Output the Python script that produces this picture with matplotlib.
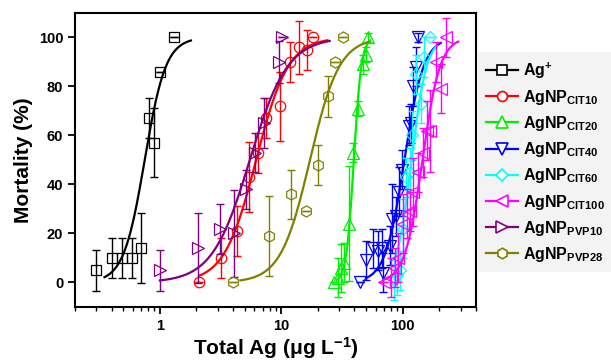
import matplotlib
matplotlib.use("Agg")
import matplotlib.pyplot as plt
import numpy as np
from matplotlib.lines import Line2D

plt.rcParams["font.family"] = ["Liberation Sans", "DejaVu Sans"]
plt.rcParams["font.weight"] = "bold"
plt.rcParams["mathtext.fontset"] = "custom"
plt.rcParams["mathtext.rm"] = "Liberation Sans:bold"
plt.rcParams["mathtext.bf"] = "Liberation Sans:bold"
plt.rcParams["mathtext.it"] = "Liberation Sans:bold"

# measured points: total Ag (ug/L), mortality (%), error (%)
ag_x = [0.3, 0.4, 0.49, 0.59, 0.7, 0.81, 0.9, 1.0, 1.3]
ag_y = [5, 10, 10, 10, 14, 67, 57, 86, 100]
ag_e = [8.4, 8.3, 8.3, 8.3, 14.4, 8.2, 14.1, 0, 0]

cit10_x = [2.1, 3.2, 4.3, 5.4, 6.4, 7.5, 9.8, 11.7, 14.0, 16.4, 18.3]
cit10_y = [0, 10, 21, 43, 53, 67, 72, 90, 96, 95, 100]
cit10_e = [0, 8.3, 10.2, 14.3, 8.2, 8.2, 14.1, 8, 10.7, 8.2, 0]

cit20_x = [27, 29.5, 31, 33, 36, 39, 43, 47, 50, 52]
cit20_y = [0, 2, 6, 8, 24, 53, 71, 89, 93, 100]
cit20_e = [0, 8, 9.9, 8, 23.5, 4, 3, 4, 3, 2]

cit40_x = [44, 50, 57, 62, 67, 69, 78, 81, 88, 93, 98, 112, 116, 122, 129, 134]
cit40_y = [0, 9, 14, 13, 14, 4, 15, 26, 27, 37, 46, 64, 65, 80, 88, 100]
cit40_e = [0, 8, 8, 8, 8, 8, 8, 14, 8, 10, 8, 8, 8, 8, 8, 2]

cit60_x = [84, 90, 95, 100, 106, 114, 120, 129, 141, 150, 167]
cit60_y = [1, 3, 5, 22, 43, 45, 60, 85, 73, 92, 100]
cit60_e = [8, 8, 8, 12, 8, 10, 10, 8, 8, 8, 0]

cit100_x = [70, 80, 86, 92, 100, 108, 115, 122, 134, 147, 157, 167, 189, 208, 226]
cit100_y = [0, 2, 6, 10, 24, 28, 29, 37, 45, 53, 62, 62, 90, 79, 100]
cit100_e = [0, 8, 8, 10, 12, 10, 8, 14, 8, 10, 12, 16.7, 8, 10, 8]

pvp10_x = [1.0, 2.07, 3.1, 4.1, 5.1, 6.1, 7.2, 9.5, 10.2]
pvp10_y = [5, 14, 22, 20, 38, 53, 65, 90, 100]
pvp10_e = [8.4, 14.3, 10.2, 17.8, 8, 8, 10.2, 8.5, 0]

pvp28_x = [4.0, 7.9, 12.0, 15.9, 20.1, 24.0, 27.5, 32]
pvp28_y = [0, 19, 36, 29, 48, 76, 90, 100]
pvp28_e = [0, 16.5, 10, 0, 8.3, 8.3, 0, 0]

# fitted dose-response curves: EC50, Hill slope, fitted x range
ec50 = [0.75, 6.2, 39.5, 103, 118, 145, 5.5, 17.2]
hill = [5.0, 3.3, 14.0, 5.5, 7.0, 6.0, 2.8, 3.6]
fit_lo = [0.35, 2.1, 29, 50, 86, 69, 1.0, 4.6]
fit_hi = [1.8, 24, 54, 205, 190, 285, 25, 52]

labels = [
    r"Ag$^{+}$",
    r"AgNP$_{\mathbf{CIT10}}$",
    r"AgNP$_{\mathbf{CIT20}}$",
    r"AgNP$_{\mathbf{CIT40}}$",
    r"AgNP$_{\mathbf{CIT60}}$",
    r"AgNP$_{\mathbf{CIT100}}$",
    r"AgNP$_{\mathbf{PVP10}}$",
    r"AgNP$_{\mathbf{PVP28}}$",
]
colors = ["#000000", "#ff0000", "#00ee00", "#0000ff", "#00ffff", "#ff00ff", "#800080", "#808000"]
markers = ["s", "o", "^", "v", "D", "<", ">", "h"]
msizes = [7, 7.5, 9, 9, 6.5, 9, 9, 8]

series = [
    (ag_x, ag_y, ag_e),
    (cit10_x, cit10_y, cit10_e),
    (cit20_x, cit20_y, cit20_e),
    (cit40_x, cit40_y, cit40_e),
    (cit60_x, cit60_y, cit60_e),
    (cit100_x, cit100_y, cit100_e),
    (pvp10_x, pvp10_y, pvp10_e),
    (pvp28_x, pvp28_y, pvp28_e),
]

fig = plt.figure(figsize=(6.11, 3.61), dpi=100)
ax = fig.add_axes([0.1227, 0.1496, 0.6563, 0.8144])

handles = []
for i, (x, y, e) in enumerate(series):
    col = colors[i]
    ax.errorbar(x, y, yerr=e, fmt="none", ecolor=col, elinewidth=1.0, capsize=3, capthick=1.0)
    ax.plot(x, y, linestyle="none", marker=markers[i], ms=msizes[i], mfc="none",
            mec=col, mew=0.9)
    xs = np.logspace(np.log10(fit_lo[i]), np.log10(fit_hi[i]), 200)
    ys = 100.0 / (1.0 + (ec50[i] / xs) ** hill[i])
    ax.plot(xs, ys, color=col, lw=1.6)
    handles.append(Line2D([], [], color=col, lw=1.6, marker=markers[i], ms=msizes[i] * 0.95,
                          mfc="white", mec=col, mew=1.2))

ax.set_xscale("log")
ax.set_xlim(0.2, 400)
ax.set_ylim(-10, 110)
ax.set_yticks([0, 20, 40, 60, 80, 100])
ax.set_xticks([1, 10, 100])
ax.set_xticklabels(["1", "10", "100"])
ax.tick_params(axis="both", which="major", direction="out", length=5, width=1.3,
               labelsize=10.5, top=False, right=False)
ax.tick_params(axis="x", which="minor", direction="out", length=3, width=1.0, top=False)
for sp in ax.spines.values():
    sp.set_linewidth(1.5)
for lab in ax.get_xticklabels() + ax.get_yticklabels():
    lab.set_fontweight("bold")

ax.set_xlabel(r"Total Ag (μg L$^{\mathbf{-1}}$)", fontsize=15, fontweight="bold", labelpad=2)
ax.set_ylabel("Mortality (%)", fontsize=15, fontweight="bold", labelpad=4)

leg = fig.legend(handles, labels, loc="center left", bbox_to_anchor=(0.782, 0.551),
                 fontsize=11.5, frameon=True, fancybox=False, handlelength=2.0,
                 handletextpad=0.3, labelspacing=0.45, borderpad=0.5, borderaxespad=0)
leg.get_frame().set_facecolor("#f1f1f1")
leg.get_frame().set_edgecolor("none")

fig.savefig("out.png", dpi=100)
